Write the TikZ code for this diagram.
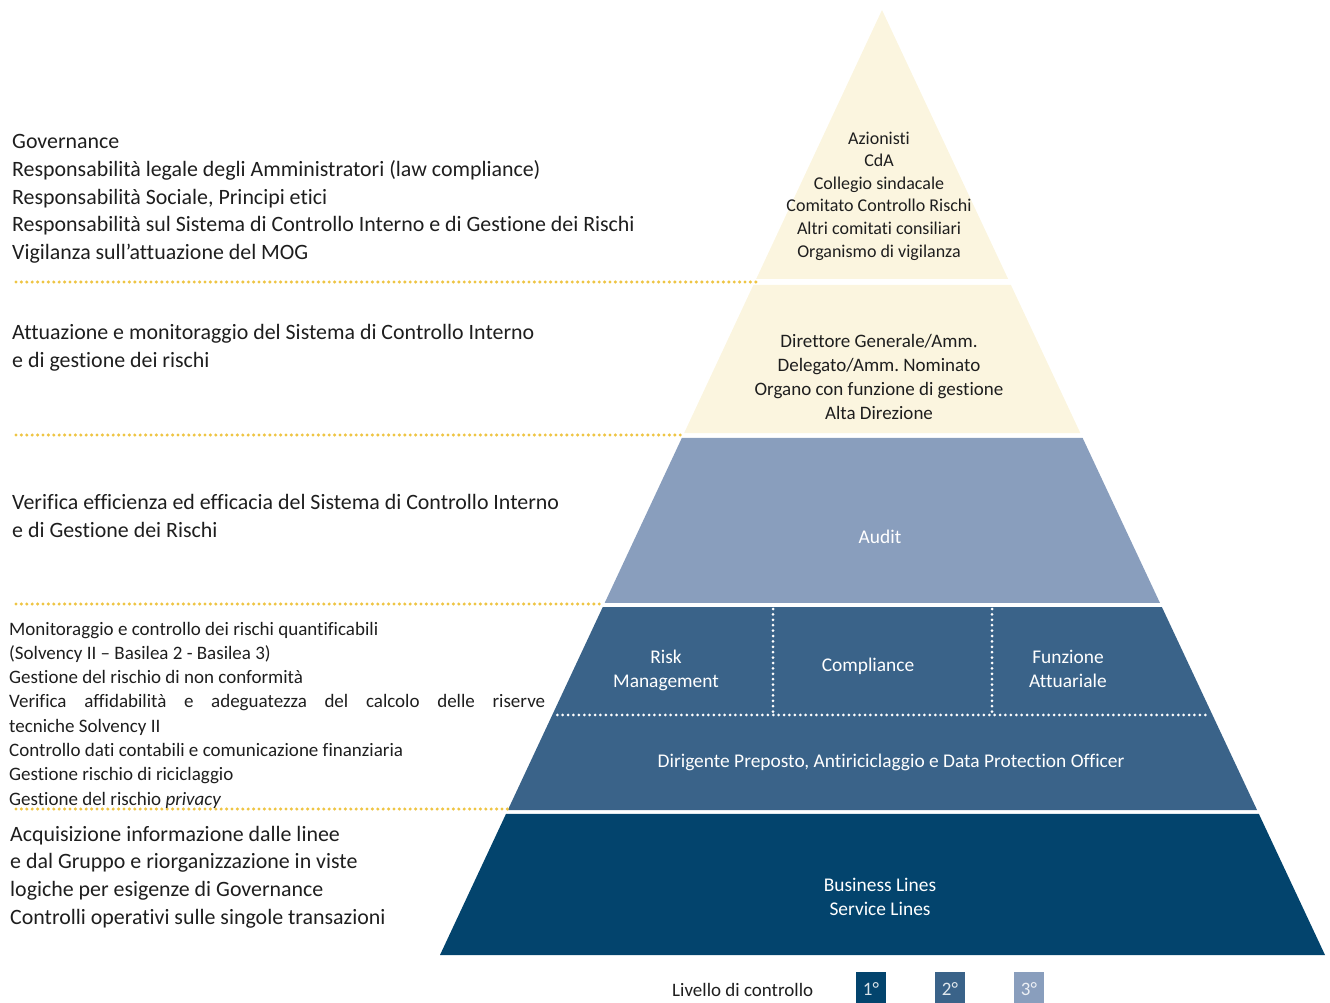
\documentclass[tikz,border=0pt]{standalone}
\usepackage{fontspec}
\setmainfont{Carlito}[Ligatures=NoCommon]
\usetikzlibrary{calc}
\frenchspacing

\definecolor{cream}{HTML}{FBF5DF}
\definecolor{lvlthree}{HTML}{899EBD}
\definecolor{lvltwo}{HTML}{3A6389}
\definecolor{lvlone}{HTML}{03446D}
\definecolor{gold}{HTML}{EEC544}
\definecolor{ink}{HTML}{1E1E1E}

% one band of the pyramid between rows #1 and #2
\newcommand{\band}[3]{%
  \fill[#3] ($(apex)!{(#1-10)/945}!(bl)$) -- ($(apex)!{(#1-10)/945}!(br)$)
    -- ($(apex)!{(#2-10)/945}!(br)$) -- ($(apex)!{(#2-10)/945}!(bl)$) -- cycle;}

\begin{document}
\begin{tikzpicture}[x=1pt,y=-1pt,
    side text/.style={anchor=west,align=left,inner sep=0pt,text=ink,
                      font=\fontsize{21.9}{27.7}\selectfont},
    small side/.style={side text,font=\fontsize{19}{24.3}\selectfont},
    top text/.style={align=center,inner sep=0pt,text=ink},
    band text/.style={align=center,inner sep=0pt,text=white,
                      font=\fontsize{19.4}{24}\selectfont},
    gold dots/.style={gold,line width=3.4pt,line cap=round,dash pattern=on 0pt off 5.4pt},
    white dots/.style={white,line width=3pt,line cap=round,dash pattern=on 0pt off 5.4pt},
    key/.style={minimum width=30,minimum height=34,inner sep=0pt,anchor=north,
                font=\fontsize{19}{19}\selectfont}]

  \useasboundingbox (0,0) rectangle (1330,1003);
  \coordinate (apex) at (882,10);
  \coordinate (bl) at (440,955);
  \coordinate (br) at (1325,955);

  % pyramid bands
  \band{10}{279}{cream}
  \band{285}{433}{cream}
  \band{438}{603}{lvlthree}
  \band{607}{810}{lvltwo}
  \band{814}{955}{lvlone}

  % dotted separators inside level 2
  \coordinate (d1) at ($(apex)!{705/945}!(bl)$);
  \coordinate (d2) at ($(apex)!{705/945}!(br)$);
  \draw[white dots] ($(d1)+(5,0)$) -- ($(d2)+(-3,0)$);
  \draw[white dots] (773,609) -- (773,713);
  \draw[white dots] (992,609) -- (992,713);

  % gold dotted guides
  \draw[gold dots] (16,282) -- (756,282);
  \draw[gold dots] (16,435) -- (682,435);
  \draw[gold dots] (16,604) -- (604,604);
  \draw[gold dots] (16,809) -- (508,809);

  % texts inside the pyramid
  \node[top text,font=\fontsize{18}{22.6}\selectfont] (gov) at (879,196)
    {Azionisti\\CdA\\Collegio sindacale\\Comitato Controllo Rischi\\
     Altri comitati consiliari\\Organismo di vigilanza};
  \node[top text,font=\fontsize{19}{24.3}\selectfont] (dir) at (879,377)
    {Direttore Generale/Amm.\\Delegato/Amm. Nominato\\
     Organo con funzione di gestione\\Alta Direzione};
  \node[band text] (audit) at (880,537) {Audit};
  \node[band text] (risk) at (666,670) {Risk\\Management};
  \node[band text] (comp) at (868,666) {Compliance};
  \node[band text] (attu) at (1068,669) {Funzione\\Attuariale};
  \node[band text] (dpo) at (891,762)
    {Dirigente Preposto, Antiriciclaggio e Data Protection Officer};
  \node[band text] (biz) at (880,897) {Business Lines\\Service Lines};

  % texts on the left
  \node[side text] (t1) at (12,199)
    {Governance\\
     Responsabilità legale degli Amministratori (law compliance)\\
     Responsabilità Sociale, Principi etici\\
     Responsabilità sul Sistema di Controllo Interno e di Gestione dei Rischi\\
     Vigilanza sull’attuazione del MOG};
  \node[side text] (t2) at (12,348)
    {Attuazione e monitoraggio del Sistema di Controllo Interno\\
     e di gestione dei rischi};
  \node[side text] (t3) at (12,516)
    {Verifica efficienza ed efficacia del Sistema di Controllo Interno\\
     e di Gestione dei Rischi};
  \node[small side] (t4) at (9,715)
    {Monitoraggio e controllo dei rischi quantificabili\\
     (Solvency II – Basilea 2 - Basilea 3)\\
     Gestione del rischio di non conformità\\
     \makebox[536pt][s]{Verifica affidabilità e adeguatezza del calcolo delle riserve}\\
     tecniche Solvency II\\
     Controllo dati contabili e comunicazione finanziaria\\
     Gestione rischio di riciclaggio\\
     Gestione del rischio \textit{privacy}};
  \node[side text] (t5) at (10,877)
    {Acquisizione informazione dalle linee\\
     e dal Gruppo e riorganizzazione in viste\\
     logiche per esigenze di Governance\\
     Controlli operativi sulle singole transazioni};

  % legend
  \node[anchor=west,inner sep=0pt,text=ink,font=\fontsize{19}{19}\selectfont]
    (lev) at (672,990) {Livello di controllo};
  \node[key,fill=lvlone,text=white!85!lvlone] (k1) at (871,972) {1°};
  \node[key,fill=lvltwo,text=white!85!lvltwo] (k2) at (950,972) {2°};
  \node[key,fill=lvlthree,text=white!85!lvlthree] (k3) at (1029,972) {3°};
\end{tikzpicture}
\end{document}
